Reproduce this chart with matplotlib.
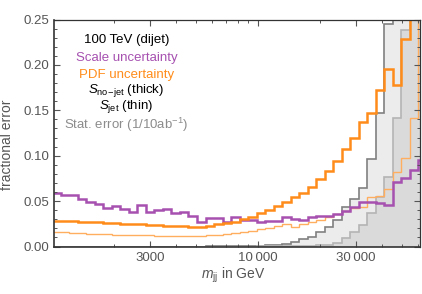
import numpy as np
import matplotlib
matplotlib.use("Agg")
import matplotlib.pyplot as plt
from matplotlib.ticker import FixedLocator, NullFormatter, FixedFormatter

plt.rcParams['font.family'] = ['Liberation Sans', 'DejaVu Sans']
plt.rcParams['mathtext.fontset'] = 'custom'
plt.rcParams['mathtext.it'] = 'Liberation Sans:italic'
plt.rcParams['mathtext.rm'] = 'Liberation Sans'

# bin edges in GeV (log-uniform, factor 1.1)
bin_edges = 1000 * 1.1 ** np.arange(45)

scale_unc = [0.059, 0.0567, 0.0567, 0.052, 0.0487, 0.0465, 0.0427, 0.0443, 0.041, 0.038,
             0.0457, 0.038, 0.0398, 0.041, 0.0365, 0.038, 0.034, 0.0267, 0.031, 0.031,
             0.0275, 0.033, 0.029, 0.029, 0.0275, 0.028, 0.028, 0.032, 0.030, 0.029,
             0.032, 0.0335, 0.0335, 0.036, 0.039, 0.044, 0.049, 0.049, 0.048, 0.046,
             0.071, 0.075, 0.084, 0.095]

pdf_nojet = [0.0285, 0.028, 0.0278, 0.0273, 0.027, 0.0265, 0.026, 0.0255, 0.025, 0.0247,
             0.0243, 0.024, 0.0235, 0.023, 0.0228, 0.0222, 0.0215, 0.022, 0.023, 0.0245,
             0.0255, 0.0275, 0.030, 0.033, 0.0365, 0.040, 0.0445, 0.049, 0.054, 0.059,
             0.066, 0.074, 0.083, 0.094, 0.107, 0.120, 0.1375, 0.1467, 0.172, 0.195,
             0.178, 0.228, 0.29, 0.32]

pdf_jet = [0.016, 0.0155, 0.015, 0.0146, 0.0142, 0.0138, 0.0135, 0.0132, 0.013, 0.0127,
           0.0125, 0.0122, 0.012, 0.0118, 0.0117, 0.0116, 0.0117, 0.012, 0.0125, 0.013,
           0.014, 0.015, 0.016, 0.0175, 0.019, 0.0205, 0.0225, 0.0245, 0.022, 0.0248,
           0.027, 0.029, 0.033, 0.0355, 0.039, 0.042, 0.0438, 0.055, 0.056, 0.063,
           0.082, 0.097, 0.142, 0.30]

stat_nojet = [0.0, 0.0, 0.0, 0.0, 0.0, 0.0, 0.0, 0.0, 0.0, 0.0,
              0.0, 0.0, 0.0, 0.0, 0.0, 0.0, 0.0, 0.0, 0.0001, 0.0002,
              0.0003, 0.0004, 0.0006, 0.0008, 0.001, 0.0015, 0.002, 0.003, 0.005, 0.008,
              0.011, 0.016, 0.022, 0.029, 0.044, 0.052, 0.064, 0.096, 0.147, 0.245,
              0.35, 0.5, 0.7, 1.0]

stat_jet = [0.0, 0.0, 0.0, 0.0, 0.0, 0.0, 0.0, 0.0, 0.0, 0.0,
            0.0, 0.0, 0.0, 0.0, 0.0, 0.0, 0.0, 0.0, 0.0, 0.0,
            0.0, 0.0, 0.0, 0.0, 0.0001, 0.0002, 0.0003, 0.0004, 0.0005, 0.0007,
            0.001, 0.0015, 0.002, 0.004, 0.009, 0.016, 0.024, 0.037, 0.055, 0.077,
            0.141, 0.238, 0.40, 0.6]

fig = plt.figure(figsize=(4.22, 2.94), dpi=100)
ax = fig.add_axes([54/422, 1-246.5/294, 366/422, 227/294])

fill_col = (0, 0, 0, 0.075)
ax.stairs(stat_nojet, bin_edges, fill=True, color=fill_col, lw=0)
ax.stairs(stat_jet, bin_edges, fill=True, color=fill_col, lw=0)
ax.stairs(stat_nojet, bin_edges, color='#808080', lw=1.2)
ax.stairs(stat_jet, bin_edges, color='#b4b4b4', lw=1.2)

purple = '#a650b0'
orange = '#ff8c1a'
orange_light = '#ffae60'
ax.stairs(pdf_jet, bin_edges, color=orange_light, lw=1.0)
ax.stairs(scale_unc, bin_edges, color=purple, lw=1.8)
ax.stairs(pdf_nojet, bin_edges, color=orange, lw=1.8)

ax.set_xscale('log')
ax.set_xlim(1018, 61500)
ax.set_ylim(0, 0.25)

# ticks
xmaj = [3000, 10000, 30000]
xmin = [1000, 2000, 4000, 5000, 6000, 7000, 8000, 9000, 20000, 40000, 50000, 60000]
ax.xaxis.set_major_locator(FixedLocator(xmaj))
ax.xaxis.set_major_formatter(FixedFormatter(['3000', '10\u2009000', '30\u2009000']))
ax.xaxis.set_minor_locator(FixedLocator(xmin))
ax.xaxis.set_minor_formatter(NullFormatter())
yticks = [0.0, 0.05, 0.10, 0.15, 0.20, 0.25]
ax.set_yticks(yticks)
ax.set_yticklabels(['0.00', '0.05', '0.10', '0.15', '0.20', '0.25'])
ax.yaxis.set_minor_locator(FixedLocator(np.arange(0, 0.2501, 0.01)))

tc = '#555555'
ax.tick_params(which='both', direction='in', top=True, right=True, colors='#555555',
               labelcolor=tc, labelsize=9.5)
ax.tick_params(which='major', length=4, width=0.8)
ax.tick_params(which='minor', length=2.5, width=0.7)
ax.tick_params(axis='x', pad=4)
for s in ['left', 'bottom']:
    ax.spines[s].set_color('#333333')
    ax.spines[s].set_linewidth(1.2)
for s in ['top', 'right']:
    ax.spines[s].set_color('#333333')
    ax.spines[s].set_linewidth(0.9)

ax.set_xlabel(r'$m_{\rm jj}$ in GeV', color=tc, fontsize=10)
ax.set_ylabel('fractional error', color=tc, fontsize=10)
ax.xaxis.set_label_coords(0.49, -0.085)
ax.yaxis.set_label_coords(-0.108, 0.45)

tx = 0.198
fs = 9.5
ax.text(tx, 0.91, '100 TeV (dijet)', transform=ax.transAxes, ha='center', va='center', color='black', fontsize=fs)
ax.text(tx, 0.829, 'Scale uncertainty', transform=ax.transAxes, ha='center', va='center', color=purple, fontsize=fs)
ax.text(tx, 0.755, 'PDF uncertainty', transform=ax.transAxes, ha='center', va='center', color=orange, fontsize=fs)
ax.text(tx, 0.688, r'$S_{\rm no\!-\!jet}$ (thick)', transform=ax.transAxes, ha='center', va='center', color='black', fontsize=fs)
ax.text(tx, 0.618, r'$S_{\rm jet}$ (thin)', transform=ax.transAxes, ha='center', va='center', color='black', fontsize=fs)
ax.text(tx, 0.535, r'Stat. error (1/10ab$^{-1}$)', transform=ax.transAxes, ha='center', va='center', color='#8c8c8c', fontsize=fs)

fig.savefig('out.png', dpi=100)
